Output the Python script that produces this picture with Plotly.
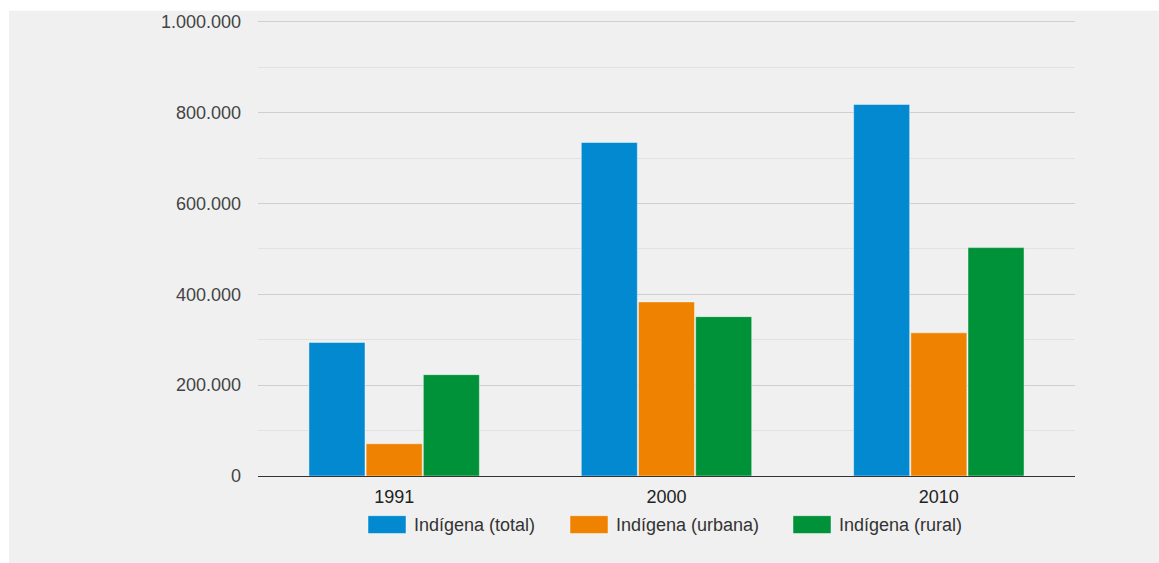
import plotly.graph_objects as go

years = ["1991", "2000", "2010"]
series_names = ["Indígena (total)", "Indígena (urbana)", "Indígena (rural)"]
total = [294131, 734127, 817963]
urbana = [71026, 383298, 315180]
rural = [223105, 350829, 502783]
colors = ["#0289CF", "#EF8200", "#009239"]
y_ticks = [0, 200000, 400000, 600000, 800000, 1000000]
y_max = 1000000

W, H = 1159, 563
L, R, B = 258, 1075, 476          # plot area edges in px
TOP_TICK_PX = 18                  # pixel row of the 1.000.000 gridline
PAD = 1.006                       # small headroom so the top gridline is drawn
T = B - (B - TOP_TICK_PX) * PAD


def px_x(p):
    return (p - L) / (R - L)


def px_y(p):
    return (B - p) / (B - T)


fig = go.Figure()
for name, vals, col in zip(series_names, [total, urbana, rural], colors):
    fig.add_trace(go.Bar(
        x=years, y=vals, name=name, showlegend=False,
        marker=dict(color=col, line=dict(color="rgba(255,255,255,0.45)", width=1)),
    ))

shapes = [dict(type="rect", xref="paper", yref="paper", layer="below",
               x0=px_x(9), x1=px_x(1170), y0=px_y(580), y1=px_y(7),
               fillcolor="#f0f0f0", line=dict(width=0))]
annotations = []
sw_x = [368, 570, 793]
for i, name in enumerate(series_names):
    shapes.append(dict(type="rect", xref="paper", yref="paper",
                       x0=px_x(sw_x[i]), x1=px_x(sw_x[i] + 38),
                       y0=px_y(534), y1=px_y(516),
                       fillcolor=colors[i], line=dict(color="rgba(255,255,255,0.45)", width=1)))
    annotations.append(dict(xref="paper", yref="paper", x=px_x(sw_x[i] + 44), y=px_y(525),
                            xanchor="left", yanchor="middle", text=name, showarrow=False,
                            font=dict(size=18, color="#333")))

fig.update_layout(
    width=W, height=H,
    margin=dict(l=L, r=W - R, t=T, b=H - B, pad=0),
    paper_bgcolor="white",
    plot_bgcolor="rgba(0,0,0,0)",
    font=dict(family="Liberation Sans, Arial, sans-serif", size=18, color="#444"),
    separators=",.",
    barmode="group",
    bargap=0.37,
    bargroupgap=0.02,
    shapes=shapes,
    annotations=annotations,
    xaxis=dict(showgrid=False, showline=True, linecolor="#333", linewidth=1,
               tickfont=dict(size=18, color="#222"), ticks="", ticklabelstandoff=4,
               fixedrange=True),
    yaxis=dict(range=[0, y_max * PAD], tickvals=y_ticks, tickformat=",d",
               showgrid=True, gridcolor="#cfcfcf", gridwidth=1,
               minor=dict(dtick=100000, showgrid=True, gridcolor="#e2e2e2", gridwidth=1),
               zeroline=False, showline=False, ticks="", ticklabelstandoff=16,
               tickfont=dict(size=18, color="#444"), fixedrange=True),
)

fig.write_html("out.html", config={"displayModeBar": False})
